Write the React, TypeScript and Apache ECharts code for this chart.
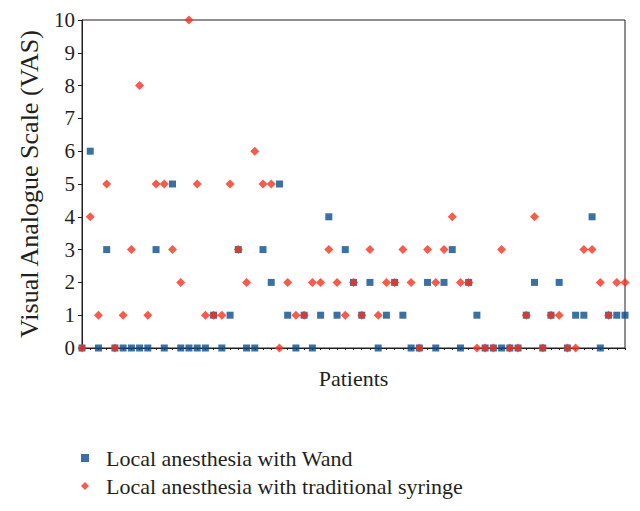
import React, { useEffect, useRef } from "react";
import * as echarts from "echarts";

const patients: string[] = Array.from({ length: 67 }, (_, i) => String(i + 1));

const wandValues: number[] = [
  0, 6, 0, 3, 0, 0, 0, 0, 0, 3,
  0, 5, 0, 0, 0, 0, 1, 0, 1, 3,
  0, 0, 3, 2, 5, 1, 0, 1, 0, 1,
  4, 1, 3, 2, 1, 2, 0, 1, 2, 1,
  0, 0, 2, 0, 2, 3, 0, 2, 1, 0,
  0, 0, 0, 0, 1, 2, 0, 1, 2, 0,
  1, 1, 4, 0, 1, 1, 1,
];

const syringeValues: number[] = [
  0, 4, 1, 5, 0, 1, 3, 8, 1, 5,
  5, 3, 2, 10, 5, 1, 1, 1, 5, 3,
  2, 6, 5, 5, 0, 2, 1, 1, 2, 2,
  3, 2, 1, 2, 1, 3, 1, 2, 2, 3,
  2, 0, 3, 2, 3, 4, 2, 2, 0, 0,
  0, 3, 0, 0, 1, 4, 0, 1, 1, 0,
  0, 3, 3, 2, 1, 2, 2,
];

const yTicks: number[] = [0, 1, 2, 3, 4, 5, 6, 7, 8, 9, 10];

const seriesNames: string[] = [
  "Local anesthesia with Wand",
  "Local anesthesia with traditional syringe",
];

const FONT = "'Liberation Serif', 'DejaVu Serif', serif";

export default function App() {
  const ref = useRef<HTMLDivElement>(null);

  useEffect(() => {
    if (!ref.current) return;
    const chart = echarts.init(ref.current, undefined, { renderer: "svg" });
    chart.setOption({
      animation: false,
      backgroundColor: "#ffffff",
      textStyle: { fontFamily: FONT },
      grid: {
        left: 74,
        right: 7,
        top: 12,
        bottom: 155,
        show: true,
        borderColor: "#231f20",
        borderWidth: 1,
      },
      legend: {
        orient: "vertical",
        left: 73,
        top: 438,
        height: 60,
        padding: 0,
        itemGap: 4,
        itemWidth: 8,
        itemHeight: 8,
        textStyle: {
          fontFamily: FONT,
          fontSize: 22,
          lineHeight: 24,
          color: "#231f20",
          padding: [0, 0, 0, 12],
        },
        data: [
          { name: seriesNames[0], icon: "rect" },
          { name: seriesNames[1], icon: "diamond" },
        ],
      },
      xAxis: {
        type: "category",
        data: patients,
        boundaryGap: false,
        name: "Patients",
        nameLocation: "middle",
        nameGap: 19,
        nameTextStyle: { fontFamily: FONT, fontSize: 22, color: "#231f20" },
        axisLine: { lineStyle: { color: "#231f20", width: 1 } },
        axisTick: { show: true, interval: 0, length: 2, lineStyle: { color: "#231f20" } },
        axisLabel: { show: false },
        splitLine: { show: false },
      },
      yAxis: {
        type: "value",
        min: yTicks[0],
        max: yTicks[yTicks.length - 1],
        interval: 1,
        name: "Visual Analogue Scale (VAS)",
        nameLocation: "middle",
        nameGap: 40,
        nameTextStyle: { fontFamily: FONT, fontSize: 26, color: "#231f20" },
        axisLine: { show: true, lineStyle: { color: "#231f20", width: 1 } },
        axisTick: { show: true, length: 4, lineStyle: { color: "#231f20" } },
        axisLabel: { fontFamily: FONT, fontSize: 21, color: "#231f20", margin: 7 },
        splitLine: { show: false },
      },
      series: [
        {
          name: seriesNames[0],
          type: "scatter",
          symbol: "rect",
          symbolSize: 7,
          itemStyle: { color: "#0a4c8c" },
          data: wandValues,
          z: 2,
        },
        {
          name: seriesNames[1],
          type: "scatter",
          symbol: "diamond",
          symbolSize: [9, 9],
          itemStyle: { color: "#f5321e" },
          data: syringeValues,
          z: 3,
        },
      ],
    });
    return () => chart.dispose();
  }, []);

  return <div ref={ref} style={{ width: 624, height: 495 }} />;
}
